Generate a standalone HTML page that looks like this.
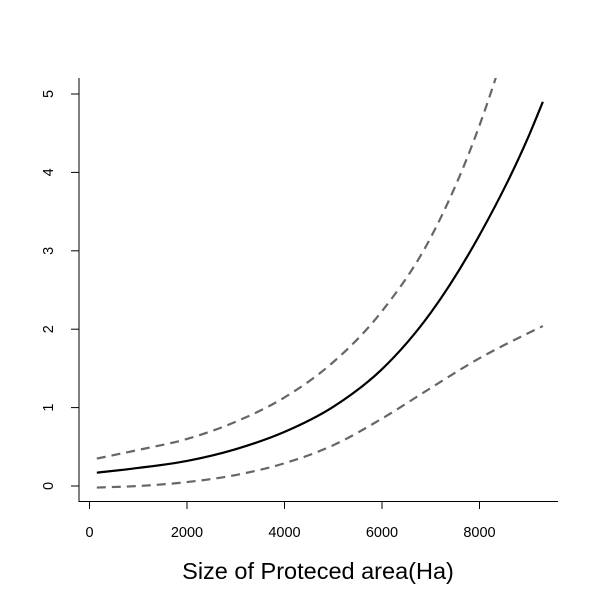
<!DOCTYPE html>
<html><head><meta charset="utf-8"><style>
body{margin:0;background:#fff}
svg{font-family:"Liberation Sans",Arial,sans-serif}
</style></head><body>
<svg id="c" width="600" height="600">
<g id="g"></g>
</svg>
<script>
const xTicks=[0,2000,4000,6000,8000];
const yTicks=[0,1,2,3,4,5];
const xs=[150,1000,2000,3000,4000,5000,6000,7000,8000,9000,9300];
const meanVals=[0.17,0.23,0.32,0.47,0.69,1.01,1.49,2.21,3.20,4.45,4.90];
const upperVals=[0.35,0.46,0.60,0.82,1.13,1.58,2.23,3.17,4.60,6.60,7.30];
const lowerVals=[-0.02,0.00,0.05,0.14,0.29,0.52,0.86,1.25,1.63,1.95,2.04];
const X=v=>89.5+v*0.04875, Y=v=>486-v*78.4;
const NS="http://www.w3.org/2000/svg";
const g=document.getElementById('g');
function mk(t,a,p){const e=document.createElementNS(NS,t);for(const k in a)e.setAttribute(k,a[k]);(p||g).appendChild(e);return e;}
const cp=mk('clipPath',{id:'cp'});mk('rect',{x:79,y:78,width:480,height:424},cp);
let e=mk('path',{d:'M79,78V501.5H558',fill:'none',stroke:'#000','stroke-width':1});

xTicks.forEach(t=>{
 let l=mk('line',{x1:X(t),x2:X(t),y1:501,y2:509,stroke:'#000'});
 
 let s=mk('text',{x:X(t),y:537,'text-anchor':'middle','font-size':14.5});s.textContent=t;
 
});
yTicks.forEach(t=>{
 let l=mk('line',{x1:71,x2:79,y1:Y(t),y2:Y(t),stroke:'#000'});
 
 let s=mk('text',{x:0,y:0,'text-anchor':'middle','font-size':14.5,transform:`translate(53,${Y(t)}) rotate(-90)`});s.textContent=t;
 
});
function curve(vals){
 const p=xs.map((x,i)=>[X(x),Y(vals[i])]);const n=p.length;
 const d=[],m=[];
 for(let i=0;i<n-1;i++)d.push((p[i+1][1]-p[i][1])/(p[i+1][0]-p[i][0]));
 m[0]=d[0];m[n-1]=d[n-2];
 for(let i=1;i<n-1;i++){
  const h0=p[i][0]-p[i-1][0],h1=p[i+1][0]-p[i][0];
  m[i]=(d[i-1]*h1+d[i]*h0)/(h0+h1);
 }
 let s='M'+p[0].join(',');
 for(let i=0;i<n-1;i++){
  const h=(p[i+1][0]-p[i][0])/3;
  s+=`C${p[i][0]+h},${p[i][1]+m[i]*h} ${p[i+1][0]-h},${p[i+1][1]-m[i+1]*h} ${p[i+1][0]},${p[i+1][1]}`;
 }
 return s;
}
e=mk('path',{d:curve(upperVals),fill:'none',stroke:'#666','stroke-width':2.2,'stroke-dasharray':'9,6','clip-path':'url(#cp)'});

e=mk('path',{d:curve(lowerVals),fill:'none',stroke:'#666','stroke-width':2.2,'stroke-dasharray':'9,6'});

e=mk('path',{d:curve(meanVals),fill:'none',stroke:'#000','stroke-width':2.2});

e=mk('text',{x:318,y:579,'text-anchor':'middle','font-size':23.5});e.textContent='Size of Proteced area(Ha)';

</script>
</body></html>
